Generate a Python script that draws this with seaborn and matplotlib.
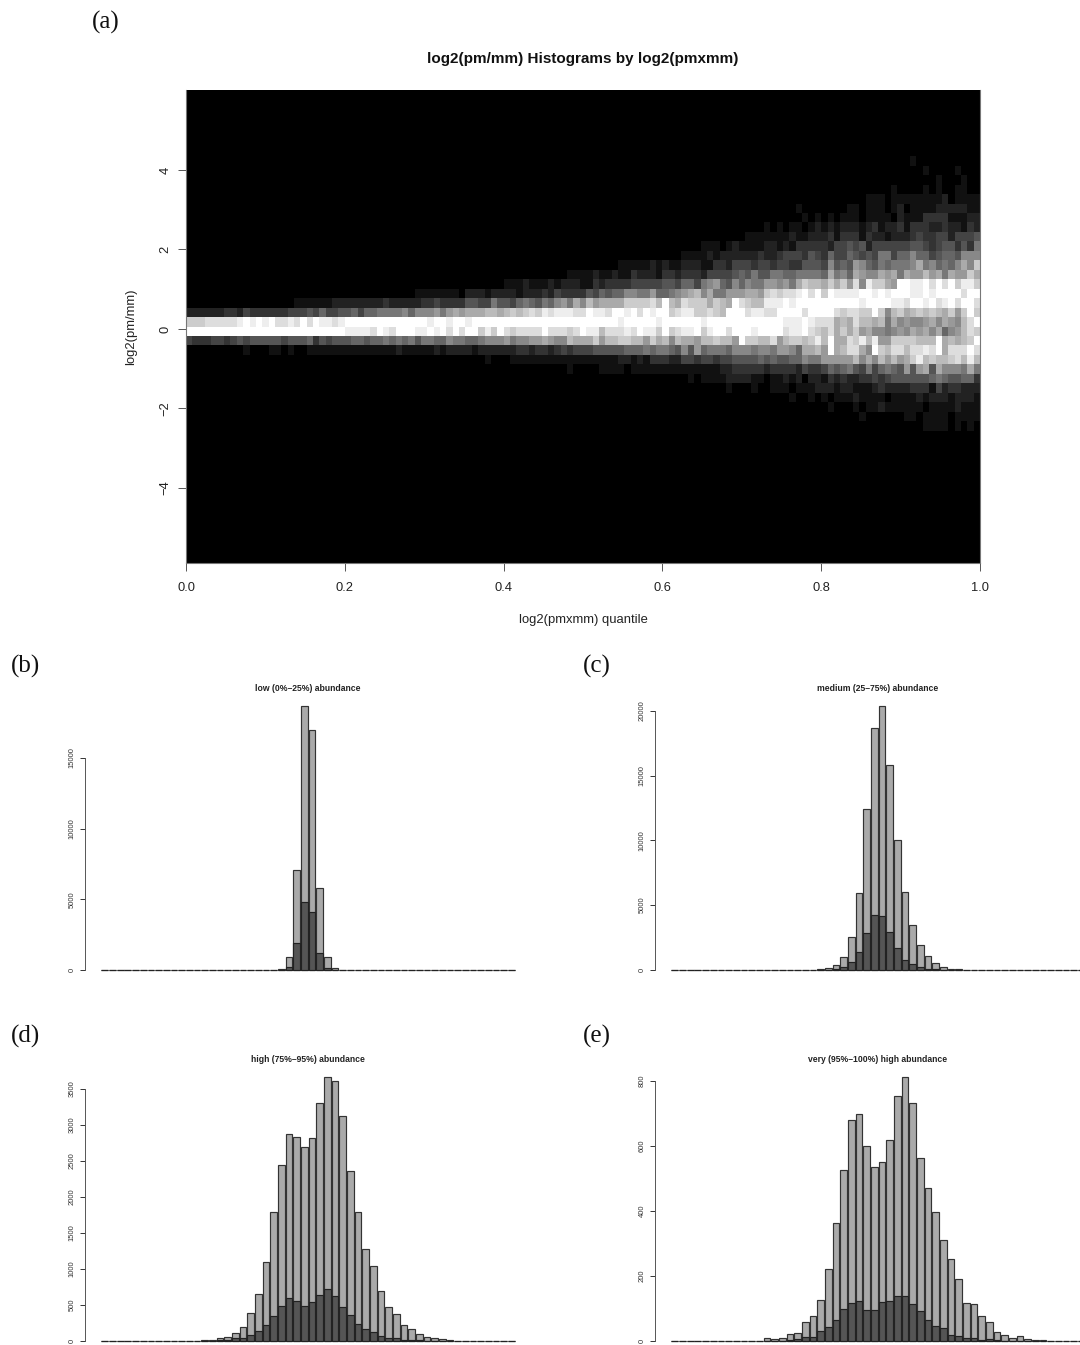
import matplotlib
matplotlib.use("Agg")
import matplotlib.pyplot as plt
import numpy as np
import seaborn as sns

# grey level (hex digit, 0 black .. f white) per heatmap row,
# split in three stretches of columns, top row first
heat_left = [
    "", "", "", "", "", "", "", "", "", "", "", "", "", "",
    "0" * 36 + "111111",
    "0" * 17 + "111111" + "2222" + "2222" + "3" + "2" + "2222" + "33" + "4" + "33",
    "222222" "33" "2" "4" "3" "3333" "3" "4" "44" "5" "4" "6" "44" "55" "6" "4" "66" "7777" "8" "6" "888" "9" "7" "9",
    "ccc" "dddd" "d" "e" "f" "e" "f" "e" "f" "dd" "e" "d" "f" "d" "f" "ee" "d" "e" + "f" * 13 + "e" "ff" "e",
    "f" * 25 + "eeee" "d" "f" "e" "d" "fff" "ee" "f" "e" "f" "d",
    "4" "333" "44" "3" "4" "5" "4" "5" "5555" "4" "55" "5" "6" "3" "5" "4" "5" "55" "66" "5" "66" "7" "6" "7" "6" "7" "5" "77" "66" "8",
    "0" * 9 + "1" "000" "11" "0" "1" "00" + "1" * 14 + "2" "1111" "1212",
    "", "", "", "", "", "", "", "",
]
heat_mid = [
    "", "", "", "", "", "", "", "", "",
    "0" * 39 + "111",
    "0" * 36 + "111" "1" "2" "1",
    "0" * 26 + "1111" "1" "2" "1" "2" "11" "222" "11" "3",
    "0" * 18 + "1111" "2" "1" "1" "2" "11" "3" "22" "2" "1" "33" "2" "333" "2" "44",
    "0" * 8 + "111" "2" "111" "2" "1" "222" "11" "3" "2" "3333" "44" "444" "55" "4" "66" "4" "7" "8" "9",
    "1" "0" "222" "1" "22" "22" "1" "22" "2" "3" "2" "4" "3" "333" "5" "4" "6" "5" "66" "88" "77" "9" "66" "7" "8" "9" "a" "b" "8" "a" "7",
    "33" "55" "44" "7" "55" "4" "6" "7" "6" "5" "7" "6" "8" "9" "7" "a" "8" "b" "9" "aaa" "a" "cc" "cc" "d" "b" "f" "b" "a" "d" "c" "cc" "a" "c",
    "a" "9" "aa" "a" "bb" "a" "b" "c" "b" "c" "d" "c" "e" "d" "ee" "e" "dd" "f" "ee" "d" "ff" "e" "f" "d" "f" "e" "ff" "c" "d" "ee" "cc" "d" "c",
    "ffe" + "f" * 23 + "e" "ffff" "f" "e" "ffffff" "e" "ff",
    "f" "d" "ff" "c" "e" "c" "f" "d" "c" "d" "dd" "d" "f" "ddd" "c" "d" "f" "ee" "b" "ddd" "e" "d" "f" "ee" "c" "f" "c" "d" "ee" "f" "c" "e" "f",
    "77" "66" "7" "888" "9" "7" "88" "99" "a" "9" "88" "b" "aaa" "c" "9" "bb" "cc" "bb" "9" "c" "a" "b" "8" "b" "aa" "9" "bb" "c",
    "222" "1" "22" "2" "222" "33" "2" "33" "2" "3" "4" "3" "4" "44" "55555" "66" "6" "7" "6" "77" "6" "5" "8" "5" "9" "6" "77",
    "00000" "1" "000" "111111" "1" "11" "111" "11111" "22" "1" "2" "1" "333" "22" "44" "3" "44" "3",
    "0" * 18 + "1" "0000" "1111" "0" "1" + "1" * 13,
    "0" * 37 + "1" "0" "111",
    "", "", "", "", "",
]
heat_right = [
    "0" * 30 + "1",
    "0" * 32 + "1" "0000" "1",
    "0" * 34 + "1" "000" "1",
    "0" * 27 + "1" "0000" "1" "0" "1" "00" "11",
    "0" * 23 + "111" "0" "1" "1111" "111" "2" "0" "11" "11",
    "0" * 12 + "1" + "0" * 7 + "11" "0" "111" "0" "1" "2" "0" "1111" "22222" "11",
    "0" * 13 + "1" "0" "1" "0" "1" "0" "1" "11" "0" "1111" "0" "2" "111" "3333" "111" "22",
    "0000000" "1" "0" "1" "0" "11" "0" "12" "1" "2" "1" "22" "2" "1" "2" "3" "1" "2" "2" "3" "1" "3" "3" "3" "22" "3" "22" "1" "3" "2",
    "0000" "1111111" "2" "11" "2" "22" "3" "1" "333" "1" "3" "22" "1" "222" "3" "4" "33" "44" "2" "444" "5",
    "0" "1" "2" "1111" "22" "1" "2" "1" "33333" "2" "44" "5" "4" "5" "2" "444444" "55" "4" "3" "4" "55" "3" "5" "3" "7",
    "222222" "3" "22" "3" "444" "3" "5" "4" "3" "6" "44" "6" "5" "4" "5" "4" "77" "4" "66" "8" "66" "4" "5" "66" "5" "888",
    "3" "2" "444" "3" "44" "3" "44" "3" "3" "5" "55" "4" "8" "5" "6" "5" "9" "8" "6" "5" "7" "6" "777" "8" "a" "7" "8" "6" "7" "6" "8" "a" "8" "c",
    "44" "5" "6" "5" "7" "55" "77" "66" "7777" "6" "a" "7" "8" "6" "a" "9" "8" "8" "a" "9" "a" "7" "a" "99" "b" "9" "a" "7" "a" "9" "9" "c" "a",
    "6" "5" "8" "6" "8" "7" "7" "99" "8" "9" "7" "a" "c" "bb" "a" "c" "a" "c" "9" "d" "8" "e" "c" "c" "a" "9" "ff" "ee" "f" "d" "f" "d" "f" "c" "e" "e" "c",
    "7" "99" "9" "aa" "9" "c" "d" "c" "dd" "e" "f" "d" "f" "c" "f" "eee" "e" "ff" "e" "f" "e" "fff" "ee" "f" "e" "ffff" "d" "ff",
    "b" "a" "f" "d" "c" "b" "b" "ee" "e" "f" "e" "ffff" "f" "fffff" "e" "ffff" "ee" "d" "ff" "e" "f" "d" "e" "f" "d" "ff" "d",
    "b" "fff" "d" "ee" "dd" "fff" "f" "d" "ff" "f" "f" "d" "c" "dd" "cc" "f" "c" "8" "b" "c" "a" "b" "c" "b" "c" "b" "a" "c" "9" "c" "f" "c",
    "ffffffffff" "e" "ee" "f" "e" "ddd" "a" "b" "a" "d" "bb" "a" "b" "7" "a" "8" "9" "88" "9" "a" "8" "a" "9" "8" "b" "d" "f",
    "f" "d" "ff" "f" "e" "f" "fff" "d" "e" "e" "f" "d" "c" "b" "d" "a" "c" "a" "c" "9" "a" "8" "8" "7" "8" "9" "8" "a" "9" "a" "8" "a" "6" "8" "9" "b" "d" "c",
    "bb" "9" "f" "cc" "bb" "d" "9" "b" "cc" "b" "c" "e" "b" "f" "aa" "d" "c" "e" "b" "e" "99" "c" "ccc" "bbb" "f" "a" "b" "a" "b" "c" "f",
    "7" "6" "88" "8" "7" "88" "7" "99" "8" "6" "aa" "b" "9" "f" "a" "b" "dd" "a" "8" "f" "c" "b" "dd" "b" "dd" "e" "d" "f" "a" "ddd" "f" "d",
    "44" "5555" "6" "5" "6" "55" "66" "8" "77" "9" "9999" "b" "8" "a" "8" "b" "9" "b" "9" "a" "c" "e" "b" "c" "bb" "c" "d" "b" "e" "b",
    "22" "3333" "3" "2" "333" "3" "2" "4" "33" "4" "6" "5" "6" "7" "5" "4" "7" "4" "6" "7" "6" "5" "9" "5" "9" "a" "5" "a" "888" "7" "a" "7",
    "1" "2" "222" "1" "1" "0" "11" "2" "1" "2" "0" "22" "1" "3" "2" "3" "22" "33" "4" "3" "4" "5555" "55" "6" "7" "6" "55" "66" "3",
    "0" "1" "000" "1" "00" "111" "0" "111" "222" "1" "22" "1" "11" "2" "3" "2" "222" "3" "33" "1" "4" "2" "33" "222",
    "0" * 11 + "1" "00" "1" "0" "1" "0" "1" "11" "2" "1" "111" "0" "111" "1" "2" "1" "2" "22" "1" "222" "1",
    "0" * 17 + "1" "000" "1" "0" "11" "2" "111" "1" "11" "0" "1111" "2" "111",
    "0" * 22 + "1" "000000" "11" "0" "1111" "0" "1111",
    "0" * 32 + "1111" "0" "1" "0" "1" "0",
]
n_cols = 125
n_rows = 50
rows_above = 7  # black rows above the first one that was read

x_tick_values = [0.0, 0.2, 0.4, 0.6, 0.8, 1.0]
y_tick_values = [-4, -2, 0, 2, 4]
y_top, y_bottom = 6.01, -5.89

bin_index = list(range(54))
low_total = [0] * 23 + [50, 950, 7100, 18700, 16950, 5800, 950, 120] + [0] * 23
low_dark = [0] * 23 + [10, 220, 1880, 4820, 4080, 1230, 160, 30] + [0] * 23
medium_total = [0] * 19 + [50, 130, 360, 1030, 2570, 5950, 12450, 18650, 20350, 15850, 10050, 6000,
                           3450, 1900, 1100, 530, 260, 110, 50, 20] + [0] * 15
medium_dark = [0] * 20 + [20, 80, 220, 600, 1420, 2820, 4280, 4150, 2920, 1700, 800, 450, 250, 100,
                          50, 25] + [0] * 18
high_total = [0] * 12 + [5, 8, 15, 40, 60, 105, 195, 390, 650, 1095, 1790, 2440, 2870, 2840, 2690,
                         2820, 3310, 3670, 3610, 3120, 2360, 1790, 1280, 1040, 700, 475, 380, 225,
                         165, 95, 50, 35, 25, 12, 5, 3] + [0] * 6
high_dark = [0] * 15 + [10, 15, 35, 45, 85, 140, 220, 345, 490, 595, 555, 490, 545, 640, 720, 620,
                        475, 365, 235, 165, 120, 75, 45, 35, 20, 18, 10, 5] + [0] * 11
very_total = [0] * 12 + [9, 6, 9, 22, 25, 58, 78, 125, 223, 363, 527, 680, 698, 600, 535, 552, 620,
                         755, 812, 733, 562, 472, 396, 311, 253, 191, 118, 113, 76, 58, 27, 18, 10,
                         15, 6, 4, 2] + [0] * 5
very_dark = [0] * 15 + [3, 6, 13, 12, 32, 42, 64, 97, 118, 122, 94, 94, 119, 123, 139, 137, 115, 91,
                        65, 46, 40, 20, 16, 9, 10, 3, 6, 2] + [0] * 11

low_ticks = [0, 5000, 10000, 15000]
medium_ticks = [0, 5000, 10000, 15000, 20000]
high_ticks = [0, 500, 1000, 1500, 2000, 2500, 3000, 3500]
very_ticks = [0, 200, 400, 600, 800]

W, H = 1080, 1345
sns.set_style("white")
plt.rcParams["font.family"] = ["Liberation Sans", "DejaVu Sans"]

fig = plt.figure(figsize=(W / 100, H / 100), dpi=100)


def px_axes(left, top, right, bottom):
    # axes placed by picture pixels
    return fig.add_axes([left / W, 1 - bottom / H, (right - left) / W, (bottom - top) / H])


def px_text(x, y, s, **kw):
    kw.setdefault("ha", "center")
    kw.setdefault("va", "center")
    fig.text(x / W, 1 - y / H, s, **kw)


def decode_rows():
    grid = np.zeros((n_rows, n_cols))
    for r, (a, b, c) in enumerate(zip(heat_left, heat_mid, heat_right)):
        line = a.ljust(42, "0")[:42] + b.ljust(42, "0")[:42] + c.ljust(41, "0")[:41]
        grid[r + rows_above] = [int(ch, 16) for ch in line]
    return grid


def draw_hist(x_axis, y_zero, y_last, x_right, total, dark, ticks, title, title_x, title_y):
    # one R-style barplot: y_zero, y_last are the pixel rows of ticks[0], ticks[-1]
    px_per_value = (y_zero - y_last) / ticks[-1]
    top_px = y_zero - max(total) * px_per_value - 6
    ax = px_axes(x_axis, top_px, x_right, y_zero + 3)
    sns.barplot(x=bin_index, y=total, color="#aaaaaa", saturation=1, width=0.87,
                edgecolor="#333333", linewidth=0.85, ax=ax)
    sns.barplot(x=bin_index, y=dark, color="#555555", saturation=1, width=0.87,
                edgecolor="#222222", linewidth=0.85, ax=ax)
    bar_step = 7.667
    ax.set_xlim(-0.5 - 16 / bar_step, -0.5 - 16 / bar_step + (x_right - x_axis) / bar_step)
    ax.set_ylim(-3 / px_per_value, max(total) + 6 / px_per_value)
    ax.set_xticks([])
    ax.set_xlabel("")
    ax.set_ylabel("")
    ax.set_yticks(ticks)
    ax.set_yticklabels([str(t) for t in ticks], rotation=90, va="center", fontsize=5.5, color="#333333")
    ax.tick_params(axis="y", left=True, length=3.6, width=0.7, color="#333333", pad=3.2)
    ax.patch.set_alpha(0)
    for side in ["top", "right", "bottom"]:
        ax.spines[side].set_visible(False)
    ax.spines["left"].set_visible(True)
    ax.spines["left"].set_bounds(ticks[0], ticks[-1])
    ax.spines["left"].set_color("#555555")
    ax.spines["left"].set_linewidth(0.7)
    px_text(title_x, title_y, title, fontsize=6.2, fontweight="bold", color="#222222")


# panel (a)
ax = px_axes(186, 90, 980, 563)
sns.heatmap(decode_rows(), cmap="gray", vmin=0, vmax=15, cbar=False, linewidths=0, ax=ax,
            xticklabels=False, yticklabels=False)
for side in ["left", "bottom", "right"]:
    ax.spines[side].set_visible(True)
    ax.spines[side].set_color("#777777")
    ax.spines[side].set_linewidth(0.8)
ax.set_xticks([v * n_cols for v in x_tick_values])
ax.set_xticklabels([f"{v:.1f}" for v in x_tick_values], fontsize=9.3, color="#222222")
ax.set_yticks([n_rows * (y_top - v) / (y_top - y_bottom) for v in y_tick_values])
ax.set_yticklabels([str(v).replace("-", "\u2212") for v in y_tick_values], rotation=90, va="center",
                   fontsize=9.3, color="#222222")
ax.tick_params(axis="x", bottom=True, length=5.5, width=0.7, color="#555555", pad=8)
ax.tick_params(axis="y", left=True, length=5.5, width=0.7, color="#555555", pad=5)

px_text(583, 59, "log2(pm/mm) Histograms by log2(pmxmm)", fontsize=11, fontweight="bold", color="#111111")
px_text(583, 620, "log2(pmxmm) quantile", fontsize=9.4, color="#222222")
px_text(131, 327, "log2(pm/mm)", fontsize=9.4, rotation=90, color="#222222")

draw_hist(85, 970, 758, W, low_total, low_dark, low_ticks, "low (0%\u201325%) abundance", 308, 688)
draw_hist(655, 970, 710.7, W, medium_total, medium_dark, medium_ticks, "medium (25\u201375%) abundance", 878, 688)
draw_hist(85, 1341, 1089, W // 2 + 20, high_total, high_dark, high_ticks, "high (75%\u201395%) abundance", 308, 1059)
draw_hist(655, 1341, 1081, W, very_total, very_dark, very_ticks, "very (95%\u2013100%) high abundance", 878, 1059)

# panel letters
for label, x, y in [("(a)", 106, 22), ("(b)", 25, 666), ("(c)", 597, 666), ("(d)", 25, 1036), ("(e)", 597, 1036)]:
    px_text(x, y, label, fontsize=18, family=["Liberation Serif", "DejaVu Serif"], color="#111111")

fig.savefig("out.png", dpi=100)
